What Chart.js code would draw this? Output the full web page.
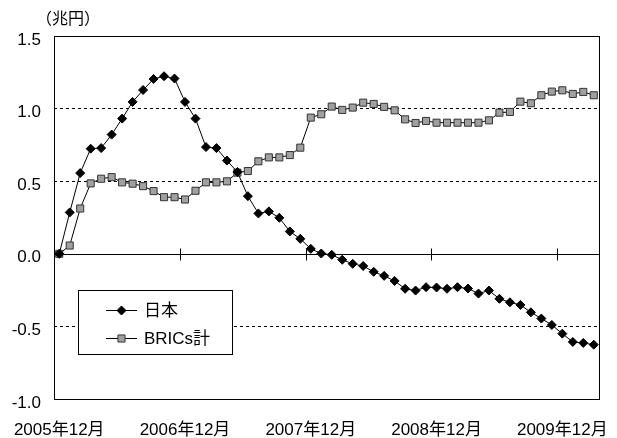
<!DOCTYPE html>
<html>
<head>
<meta charset="utf-8">
<script src="https://cdn.jsdelivr.net/npm/chart.js@4.4.1/dist/chart.umd.min.js"></script>
<style>
  html, body { margin: 0; padding: 0; background: #fff; }
</style>
</head>
<body>
<canvas id="chart" width="617" height="438"></canvas>
<script>
/* 日本 vs BRICs, monthly cumulative (兆円), 2005/12 - 2010/03 */

const tickLabels = ['2005年12月', '2006年12月', '2007年12月', '2008年12月', '2009年12月'];
const yTicks     = [-1.0, -0.5, 0.0, 0.5, 1.0, 1.5];

const japan = [
  0.000, 0.285, 0.556, 0.724, 0.728, 0.821, 0.931, 1.046, 1.128, 1.204, 1.223, 1.207,
  1.046, 0.931, 0.735, 0.728, 0.642, 0.563, 0.397, 0.278, 0.292, 0.248, 0.154, 0.103,
  0.034, 0.002, -0.007, -0.041, -0.069, -0.084, -0.124, -0.152, -0.187, -0.241, -0.253, -0.230,
  -0.232, -0.241, -0.230, -0.239, -0.274, -0.253, -0.310, -0.334, -0.352, -0.403, -0.446, -0.490,
  -0.550, -0.607, -0.614, -0.626,
];

const brics = [
  0.000, 0.057, 0.312, 0.485, 0.517, 0.528, 0.492, 0.483, 0.466, 0.432, 0.390, 0.390,
  0.374, 0.434, 0.492, 0.492, 0.499, 0.559, 0.570, 0.637, 0.664, 0.664, 0.680, 0.731,
  0.938, 0.961, 1.014, 0.991, 1.007, 1.041, 1.032, 1.012, 0.988, 0.926, 0.901, 0.915,
  0.903, 0.903, 0.903, 0.903, 0.903, 0.919, 0.972, 0.977, 1.048, 1.037, 1.092, 1.117,
  1.126, 1.101, 1.115, 1.092,
];

const months = japan.map((_, i) => i);   // month index from 2005/12

const FONT = 'Arial, "Liberation Sans", "Noto Sans CJK JP", sans-serif';
Chart.defaults.font.family = FONT;
Chart.defaults.font.size   = 17;
Chart.defaults.color       = '#000';

const series = [
  { label: '日本',    data: japan, style: 'rectRot', radius: 4.5, fill: '#000',    stroke: '#000' },
  { label: 'BRICs計', data: brics, style: 'rect',    radius: 5,   fill: '#a0a0a0', stroke: '#333' },
];

function marker(ctx, s, x, y) {
  ctx.save();
  ctx.fillStyle = s.fill;
  ctx.strokeStyle = s.stroke;
  ctx.lineWidth = 1;
  ctx.beginPath();
  if (s.style === 'rect') {
    const h = s.radius * Math.SQRT1_2;
    ctx.rect(x - h, y - h, 2 * h, 2 * h);
  } else {
    const r = s.radius;
    ctx.moveTo(x - r, y); ctx.lineTo(x, y - r);
    ctx.lineTo(x + r, y); ctx.lineTo(x, y + r);
    ctx.closePath();
  }
  ctx.fill(); ctx.stroke();
  ctx.restore();
}

/* frame, zero line with year ticks, unit title, legend */
const decor = {
  id: 'decor',
  beforeDatasetsDraw(chart) {
    const { ctx, chartArea: a, scales: { x, y } } = chart;
    const y0 = Math.round(y.getPixelForValue(0)) + 0.5;
    ctx.save();
    ctx.strokeStyle = '#000';
    ctx.lineWidth = 1;
    ctx.beginPath();
    ctx.moveTo(a.left, y0); ctx.lineTo(a.right, y0);
    for (let k = 12; k < months.length; k += 12) {
      const tx = Math.round((x.getPixelForValue(k - 1) + x.getPixelForValue(k)) / 2) + 0.5;
      ctx.moveTo(tx, y0 - 6); ctx.lineTo(tx, y0 + 6);
    }
    ctx.stroke();
    ctx.strokeRect(Math.round(a.left) + 0.5, Math.round(a.top) + 0.5,
                   Math.round(a.right - a.left), Math.round(a.bottom - a.top));
    ctx.restore();
  },
  afterDraw(chart) {
    const { ctx, chartArea: a } = chart;
    ctx.save();
    ctx.fillStyle = '#000';
    ctx.font = '16px ' + FONT;
    ctx.textBaseline = 'middle';
    ctx.textAlign = 'left';
    ctx.fillText('（兆円）', a.left - 18, a.top - 16);

    /* legend box */
    const bx = a.left + 24, by = a.top + 254, bw = 154, bh = 64;
    ctx.fillStyle = '#fff';
    ctx.fillRect(bx, by, bw, bh);
    ctx.strokeStyle = '#000';
    ctx.lineWidth = 1;
    ctx.strokeRect(bx + 0.5, by + 0.5, bw, bh);
    ctx.font = '17px ' + FONT;
    series.forEach((s, i) => {
      const ly = by + 20 + i * 28 + 0.5;
      ctx.strokeStyle = '#000';
      ctx.beginPath();
      ctx.moveTo(bx + 28, ly); ctx.lineTo(bx + 59, ly);
      ctx.stroke();
      marker(ctx, s, bx + 43.5, ly);
      ctx.fillStyle = '#000';
      ctx.fillText(s.label, bx + 66, ly + 1);
    });
    ctx.restore();
  },
};

new Chart(document.getElementById('chart'), {
  type: 'line',
  data: {
    labels: months,
    datasets: series.map(s => ({
      label: s.label,
      data: s.data,
      borderColor: '#000',
      borderWidth: 1,
      tension: 0,
      fill: false,
      pointStyle: s.style,
      pointRadius: s.radius,
      pointBackgroundColor: s.fill,
      pointBorderColor: s.stroke,
      pointBorderWidth: 1,
    })),
  },
  options: {
    responsive: false,
    animation: false,
    layout: { padding: { top: 36, right: 18, left: 0, bottom: 0 } },
    plugins: { legend: { display: false }, tooltip: { enabled: false } },
    scales: {
      x: {
        type: 'category',
        offset: true,
        grid: { display: false },
        border: { display: false },
        afterFit: s => { s.height = 39; },
        ticks: {
          autoSkip: false,
          maxRotation: 0,
          padding: 13,
          callback: (v, i) => (i % 12 === 0 ? tickLabels[i / 12] : ''),
        },
      },
      y: {
        min: yTicks[0],
        max: yTicks[yTicks.length - 1],
        afterFit: s => { s.width = 54; },
        afterBuildTicks: s => { s.ticks = yTicks.map(v => ({ value: v })); },
        border: { display: false, dash: [3, 3] },
        grid: {
          drawTicks: false,
          color: c => ([0.5, 1, -0.5].includes(c.tick.value) ? '#000' : 'transparent'),
        },
        ticks: {
          padding: 13,
          labelOffset: 4,
          callback: v => v.toFixed(1),
        },
      },
    },
  },
  plugins: [decor],
});
</script>
</body>
</html>
